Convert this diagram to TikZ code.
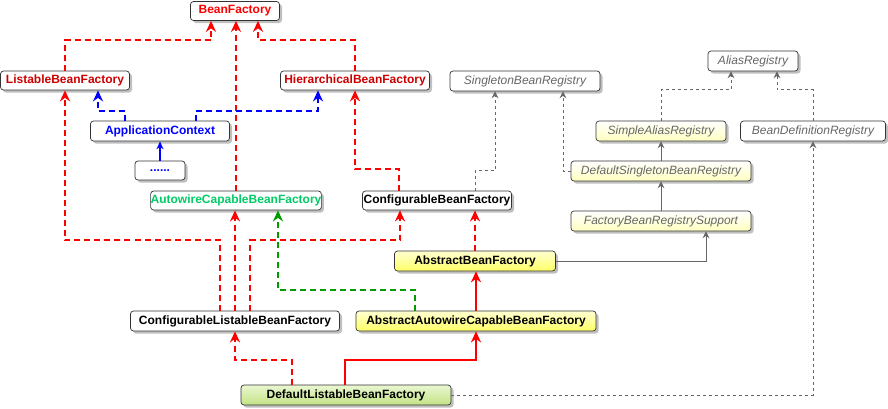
\documentclass[tikz,border=0pt]{standalone}
\usepackage{fontspec}
\setmainfont{Liberation Sans}
\usetikzlibrary{arrows.meta,shadows,positioning,calc}
\definecolor{ifred}{HTML}{FF0000}
\definecolor{ifdred}{HTML}{CC0000}
\definecolor{ifblue}{HTML}{0000FF}
\definecolor{ifgreen}{HTML}{00CC66}
\definecolor{lngreen}{HTML}{009900}
\definecolor{lngray}{HTML}{666666}
\definecolor{yltop}{HTML}{FFFFD2}
\definecolor{ylbot}{HTML}{FFFF66}
\definecolor{lytop}{HTML}{FFFFFF}
\definecolor{lybot}{HTML}{FFFFC0}
\definecolor{grtop}{HTML}{EAF7D2}
\definecolor{grbot}{HTML}{C3E384}

\begin{document}
\begin{tikzpicture}[x=1bp, y=-1bp,
    box/.style={draw=black!80, line width=0.7bp, rounded corners=3bp,
      minimum height=20bp, inner sep=0pt, fill=white,
      font=\fontsize{12bp}{14bp}\selectfont\bfseries,
      drop shadow={shadow xshift=2.5bp, shadow yshift=-2.5bp, opacity=0.25, fill=black}},
    ybox/.style={box, top color=yltop, bottom color=ylbot},
    gbox/.style={box, top color=grtop, bottom color=grbot},
    ibox/.style={box, font=\fontsize{12bp}{14bp}\selectfont\itshape, text=lngray},
    iybox/.style={ibox, top color=lytop, bottom color=lybot},
    redarr/.style={draw=ifred, line width=1.8bp, dash pattern=on 6bp off 4bp,
      -{Stealth[length=11bp, width=10bp, inset=3.5bp]}},
    redsolid/.style={draw=ifred, line width=1.8bp, -{Stealth[length=11bp, width=10bp, inset=3.5bp]}},
    bluearr/.style={redarr, draw=ifblue},
    bluesolid/.style={draw=ifblue, line width=1.2bp, -{Stealth[length=8bp, width=7bp, inset=2.5bp]}},
    greenarr/.style={redarr, draw=lngreen},
    grayarr/.style={draw=lngray, line width=0.9bp, dash pattern=on 3bp off 3bp,
      -{Stealth[length=7bp, width=7bp, inset=2.5bp]}},
    graysolid/.style={grayarr, solid}]
    \useasboundingbox (0,0) rectangle (888,408);

    % bean factory interfaces
    \node (bf) [box, text=ifred, minimum width=89bp, minimum height=19bp] at (235,11) {BeanFactory};
    \node (lbf) [box, text=ifdred, minimum width=129bp, minimum height=19bp] at (65,80.5) {ListableBeanFactory};
    \node (hbf) [box, text=ifdred, minimum width=149bp, minimum height=19bp] at (355,80.5) {HierarchicalBeanFactory};
    \node (ac) [box, text=ifblue, minimum width=139bp] at (160,131) {ApplicationContext};
    \node (more) [box, text=ifblue, minimum width=50bp, minimum height=19bp] at (160,170.5) {......};
    \node (acbf) [box, text=ifgreen, minimum width=170bp, minimum height=19bp] at (236,200.5) {AutowireCapableBeanFactory};
    \node (cbf) [box, minimum width=149bp, minimum height=19bp] at (437,200.5) {ConfigurableBeanFactory};
    \node (clbf) [box, minimum width=209bp] at (235,321) {ConfigurableListableBeanFactory};

    % implementations
    \node (abf) [ybox, minimum width=161bp] at (475,261) {AbstractBeanFactory};
    \node (aacbf) [ybox, minimum width=240bp] at (476,321) {AbstractAutowireCapableBeanFactory};
    \node (dlbf) [gbox, minimum width=210bp] at (346,395) {DefaultListableBeanFactory};

    % registries
    \node (sbr) [ibox, minimum width=150bp] at (525,81) {SingletonBeanRegistry};
    \node (ar) [ibox, minimum width=90bp] at (753,61) {AliasRegistry};
    \node (sar) [iybox, minimum width=130bp] at (661,131) {SimpleAliasRegistry};
    \node (bdr) [ibox, minimum width=145bp] at (813,131) {BeanDefinitionRegistry};
    \node (dsbr) [iybox, minimum width=180bp] at (661,171) {DefaultSingletonBeanRegistry};
    \node (fbrs) [iybox, minimum width=180bp] at (661,221) {FactoryBeanRegistrySupport};

    \draw [redarr] (lbf.north) -- ++(0,-30.5) -| ([xshift=-24bp]bf.south);
    \draw [redarr] (acbf.north) -- (acbf.north |- bf.south);
    \draw [redarr] (hbf.north) -- ++(0,-30.5) -| ([xshift=23bp]bf.south);
    \draw [bluearr] ([xshift=-35bp]ac.north) -- ++(0,-10) -| ([xshift=33bp]lbf.south);
    \draw [bluearr] ([xshift=36bp]ac.north) -- ++(0,-10) -| ([xshift=-37bp]hbf.south);
    \draw [bluesolid] (more.north) -- (more.north |- ac.south);
    \draw [redarr] ([xshift=-38bp]cbf.north) -- ++(0,-21.5) -| (hbf.south);
    \draw [redarr] ([xshift=-15bp]clbf.north) -- ++(0,-70.5) -| (lbf.south);
    \draw [redarr] (clbf.north) -- (clbf.north |- acbf.south);
    \draw [redarr] ([xshift=15bp]clbf.north) -- ++(0,-70.5) -| ([xshift=-37bp]cbf.south);
    \draw [greenarr] ([xshift=-61bp]aacbf.north) -- ++(0,-21) -| ([xshift=42bp]acbf.south);
    \draw [redsolid] (aacbf.north) -- (aacbf.north |- abf.south);
    \draw [redarr] (abf.north) -- (abf.north |- cbf.south);
    \draw [redarr] ([xshift=-54bp]dlbf.north) -- ++(0,-25) -| (clbf.south);
    \draw [redsolid] ([xshift=-1bp]dlbf.north) -- ++(0,-25) -| (aacbf.south);

    \draw [grayarr] (dlbf.east) -| (bdr.south);
    \draw [graysolid] (abf.east) -| ([xshift=45bp]fbrs.south);
    \draw [graysolid] (fbrs.north) -- (dsbr.south);
    \draw [graysolid] (dsbr.north) -- (sar.south);
    \draw [grayarr] (dsbr.west) -| ([xshift=38bp]sbr.south);
    \draw [grayarr] ([xshift=38bp]cbf.north) -- ++(0,-20.5) -| ([xshift=-30bp]sbr.south);
    \draw [grayarr] (sar.north) -- ++(0,-31) -| ([xshift=-22bp]ar.south);
    \draw [grayarr] (bdr.north) -- ++(0,-31) -| ([xshift=24bp]ar.south);
\end{tikzpicture}
\end{document}
